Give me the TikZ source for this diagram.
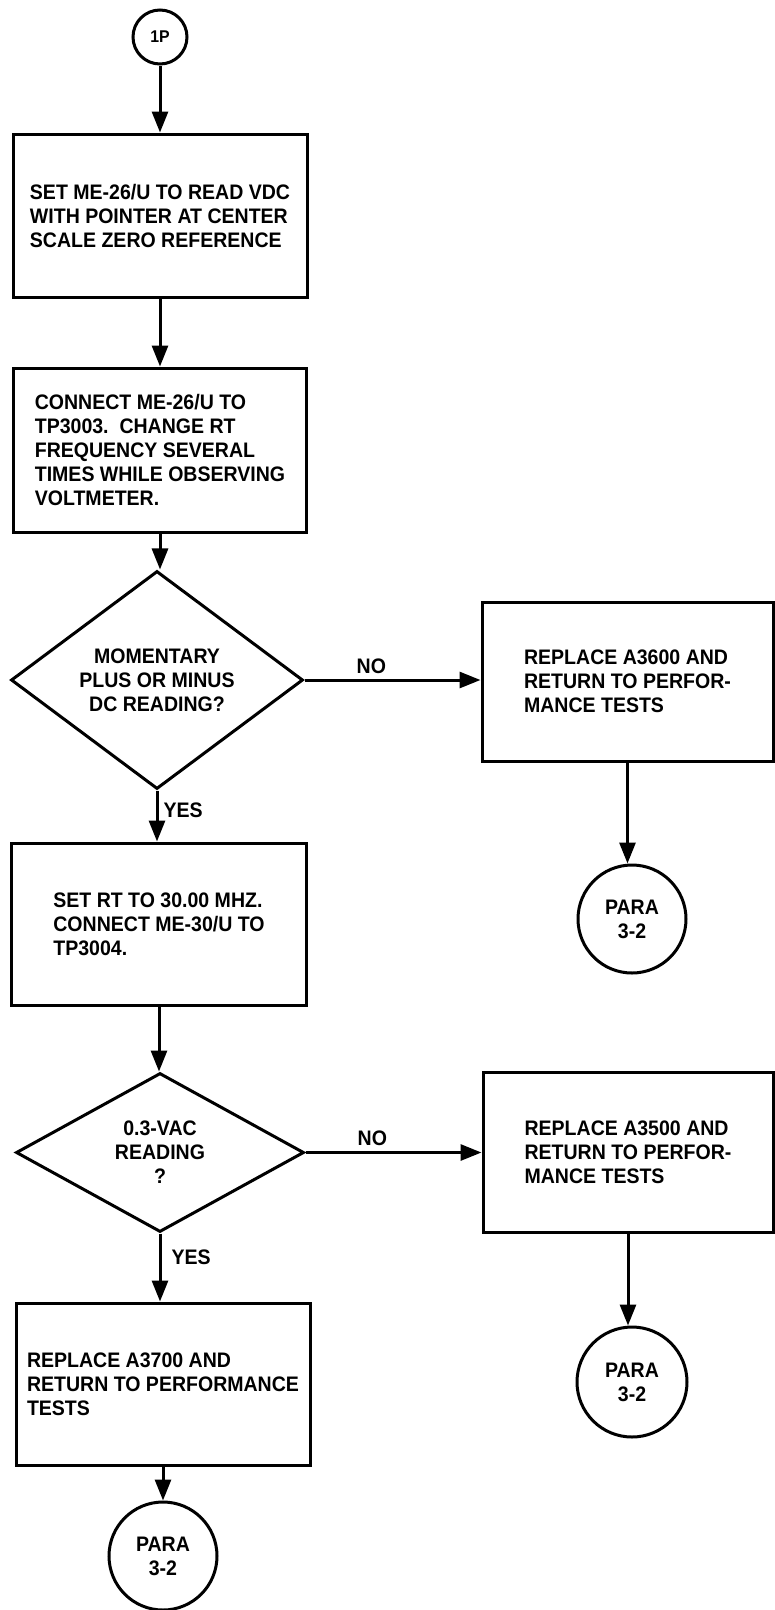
\documentclass[tikz,border=0pt]{standalone}
\usepackage{fontspec}
\setmainfont[FakeStretch=0.93]{Liberation Sans}
\usetikzlibrary{shapes.geometric,arrows.meta}
\begin{document}
\begin{tikzpicture}[x=1pt,y=-1pt,
  every node/.style={font=\bfseries\fontsize{21}{24}\selectfont},
  procbox/.style={draw,line width=3pt,inner sep=0pt,align=left},
  decision/.style={draw,diamond,line width=3pt,inner sep=0pt,align=center},
  conn/.style={draw,circle,line width=3pt,inner sep=0pt,align=center},
  flow/.style={line width=3pt,-{Triangle[length=21pt,width=16pt]}},
  lbl/.style={inner sep=0pt}
]
\useasboundingbox (0,0) rectangle (775,1610);
% left column
\node[conn,minimum size=54pt,font=\bfseries\fontsize{17}{20}\selectfont] (start) at (160,37) {1P};
\node[procbox,minimum width=294pt,minimum height=163pt] (b1) at (160,215.5)
  {SET ME-26/U TO READ VDC\\WITH POINTER AT CENTER\\SCALE ZERO REFERENCE};
\node[procbox,minimum width=293pt,minimum height=164pt] (b2) at (160,450)
  {CONNECT ME-26/U TO\\TP3003.\ \ CHANGE RT\\FREQUENCY SEVERAL\\TIMES WHILE OBSERVING\\VOLTMETER.};
\node[decision,minimum width=292pt,minimum height=160pt] (d1) at (157,680)
  {MOMENTARY\\PLUS OR MINUS\\DC READING?};
\node[procbox,minimum width=295pt,minimum height=162pt] (b3) at (159,924)
  {SET RT TO 30.00 MHZ.\\CONNECT ME-30/U TO\\TP3004.};
\node[decision,minimum width=288pt,minimum height=159pt] (d2) at (160,1152.5)
  {0.3-VAC\\READING\\?};
\node[procbox,minimum width=294pt,minimum height=162pt] (b4) at (163,1384)
  {REPLACE A3700 AND\\RETURN TO PERFORMANCE\\TESTS};
\node[conn,minimum size=108pt] (e3) at (163,1556) {PARA\\3-2};
% right column
\node[procbox,minimum width=291pt,minimum height=159pt] (r1) at (627.5,681.5)
  {REPLACE A3600 AND\\RETURN TO PERFOR-\\MANCE TESTS};
\node[conn,minimum size=108pt] (e1) at (632,919) {PARA\\3-2};
\node[procbox,minimum width=290pt,minimum height=160pt] (r2) at (628,1152)
  {REPLACE A3500 AND\\RETURN TO PERFOR-\\MANCE TESTS};
\node[conn,minimum size=110pt] (e2) at (632,1382) {PARA\\3-2};
% connectors
\draw[flow] (start.south) -- (start.south |- b1.north);
\draw[flow] (b1.south) -- (b1.south |- b2.north);
\draw[flow] (b2.south) -- (b2.south |- d1.north);
\draw[flow] (d1.south) -- node[lbl,pos=0.38,right=5pt] {YES} (d1.south |- b3.north);
\draw[flow] (b3.south) -- (b3.south |- d2.north);
\draw[flow] (d2.south) -- node[lbl,pos=0.35,right=10pt] {YES} (d2.south |- b4.north);
\draw[flow] (b4.south) -- (b4.south |- e3.north);
\draw[flow] (d1.east) -- node[lbl,pos=0.38,above=5pt] {NO} (d1.east -| r1.west);
\draw[flow] (d2.east) -- node[lbl,pos=0.38,above=5pt] {NO} (d2.east -| r2.west);
\draw[flow] (r1.south) -- (r1.south |- e1.north);
\draw[flow] (r2.south) -- (r2.south |- e2.north);
\end{tikzpicture}
\end{document}
